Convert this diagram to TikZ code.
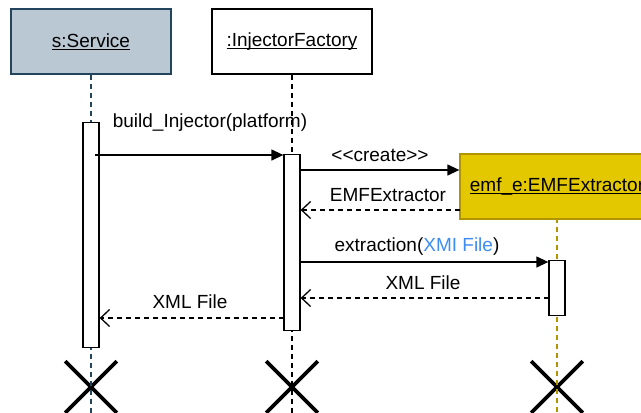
\documentclass[tikz,border=0pt]{standalone}
\usepackage{fontspec}
\setmainfont{Liberation Sans}
\usepackage{tikz}
\usetikzlibrary{arrows.meta,positioning,shapes.misc}
\definecolor{srvfill}{HTML}{BAC8D3}
\definecolor{srvline}{HTML}{23445D}
\definecolor{emffill}{HTML}{E3C800}
\definecolor{emfline}{HTML}{B09500}
\definecolor{argblue}{HTML}{3D8DF0}
\newcommand{\ulname}[1]{\setbox0\hbox{#1}\rlap{\rule[-2.6pt]{\wd0}{1.1pt}}\box0}

\begin{document}
\begin{tikzpicture}[
  x=1pt, y=-1pt,
  every node/.style={font=\fontsize{19}{22}\selectfont},
  head/.style={rectangle, draw=black, fill=white, line width=1.3pt, minimum width=160pt, minimum height=65pt, inner sep=0pt},
  srvhead/.style={head, draw=srvline, fill=srvfill},
  emfhead/.style={head, draw=emfline, fill=emffill, minimum width=194pt},
  act/.style={rectangle, draw=black, fill=white, line width=1.3pt, minimum width=16pt, inner sep=0pt, anchor=north},
  lifeline/.style={dash pattern=on 5pt off 4pt, line width=1.3pt},
  msg/.style={-{Triangle[length=12pt,width=11pt]}, line width=1.3pt},
  reply/.style={-{Straight Barb[length=9pt,width=17pt]}, dash pattern=on 5pt off 4pt, line width=1.3pt},
  kill/.style={cross out, draw=black, line width=3.6pt, minimum size=48pt, inner sep=0pt},
  lbl/.style={inner sep=0pt}
]
\clip (0,0) rectangle (641,413);

% participants
\node[srvhead] (srv) at (91,41.5) {\ulname{s:Service}};
\node[head] (fac) at (292,41.5) {\ulname{:InjectorFactory}};

% ends of the lifelines
\node[kill] (endS) at (91,387) {};
\node[kill] (endF) at (292,387) {};
\node[kill] (endE) at (557,387) {};

\draw[lifeline, draw=srvline] (srv.south) -- (endS.south);
\draw[lifeline] (fac.south) -- (endF.south);
\draw[lifeline, draw=emfline] (557,218) -- (endE.south);

\node[emfhead] (emf) at (557,186.5) {\ulname{emf\_e:EMFExtractor}};

% activations
\node[act, minimum height=225pt] (actS) at (91,122) {};
\node[act, minimum height=176pt] (actF) at (292,154) {};
\node[act, minimum height=55pt] (actE) at (557,260) {};

% messages
\coordinate (build) at (95,155);
\coordinate (create) at (300,170);
\coordinate (back) at (460,210);
\coordinate (extract) at (300,262);
\coordinate (result) at (549,298);
\coordinate (final) at (284,318);

\draw[msg] (build) -- (build -| actF.west);
\draw[msg] (create) -- (create -| emf.west);
\draw[reply] (back) -- (back -| actF.east);
\draw[msg] (extract) -- (extract -| actE.west);
\draw[reply] (result) -- (result -| actF.east);
\draw[reply] (final) -- (final -| actS.east);

\node[lbl] (buildlbl) at (210,123) {build\_Injector(platform)};
\node[lbl] (createlbl) at (380,155) {<\kern0pt<create>\kern0pt>};
\node[lbl] (backlbl) at (388,195) {EMFExtractor};
\node[lbl] (extractlbl) at (417,247) {extraction(\textcolor{argblue}{XMI File})};
\node[lbl] (resultlbl) at (423,283) {XML File};
\node[lbl] (finallbl) at (190,302) {XML File};
\end{tikzpicture}
\end{document}
